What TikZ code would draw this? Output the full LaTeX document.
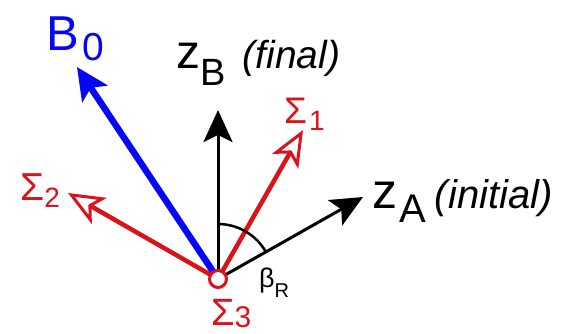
\documentclass[tikz,border=0pt]{standalone}
\usepackage{fontspec}
\setmainfont{Liberation Sans}
\usetikzlibrary{arrows.meta}

\definecolor{sigred}{RGB}{218,18,26}
\definecolor{fieldblue}{RGB}{5,5,250}

% symbol with a lowered subscript: size, symbol, sub size, drop, subscript
\newcommand{\symsub}[5]{{\fontsize{#1}{#1}\selectfont #2}\raisebox{-#4pt}{\fontsize{#3}{#3}\selectfont #5}}

\begin{document}
\begin{tikzpicture}[x=1pt, y=1pt,
    axis/.style={line width=3pt, -{Stealth[length=32pt,width=29pt,inset=7pt]}},
    sig/.style={sigred, line width=4.5pt, -{Stealth[open,length=36pt,width=30pt,inset=9pt,line width=3pt]}},
    field/.style={fieldblue, line width=6.5pt, -{Stealth[length=32pt,width=30pt,inset=7pt]}},
    lbl/.style={inner sep=0pt, anchor=base west}]
    \useasboundingbox (0,0) rectangle (571,333);

    % origin and arrow tips
    \coordinate (o)   at (218,54);
    \coordinate (zb)  at (218,223);
    \coordinate (za)  at (363,136);
    \coordinate (s1)  at (303,203);
    \coordinate (s2)  at (68,140);
    \coordinate (b0)  at (77,266);

    % vectors
    \draw[field] (o) -- (b0);
    \draw[axis]  (o) -- (zb);
    \draw[axis]  (o) -- (za);
    \draw[sig]   (o) -- (s1);
    \draw[sig]   (o) -- (s2);

    % angle between the two z axes
    \draw[line width=2.5pt] (o) ++(90:55) arc (90:29.5:55);

    % sigma 3 points along the viewer
    \node[circle,draw=sigred,fill=white,line width=3pt,minimum size=17pt,inner sep=0pt] (s3) at (o) {};

    % labels
    \node[lbl,fieldblue] (b0lbl) at (46,283) {\symsub{49}{B\kern4pt}{39}{10}{0}};
    \node[lbl] (zblbl) at (176,265) {\symsub{48}{z}{38}{17}{B}\hspace{17pt}{\fontsize{39}{39}\selectfont\itshape (final)}};
    \node[lbl] (zalbl) at (372,125) {\symsub{50}{z\kern2pt}{40}{14}{A}\hspace{9pt}{\fontsize{40}{40}\selectfont\itshape (initial)}};
    \node[lbl,sigred] (s1lbl) at (284,210) {\symsub{37}{Σ\kern2pt}{28}{7}{1}};
    \node[lbl,sigred] (s2lbl) at (20,133) {\symsub{39}{Σ}{28}{7}{2}};
    \node[lbl,sigred] (s3lbl) at (211,8) {\symsub{38}{Σ}{30}{2}{3}};
    \node[lbl] (beta) at (259,46) {\symsub{27}{β}{20}{10}{R}};
\end{tikzpicture}
\end{document}
